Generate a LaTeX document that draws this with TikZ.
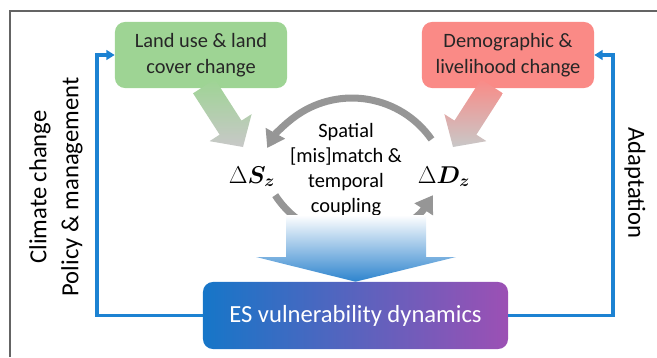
\documentclass[tikz,border=0pt]{standalone}
\usepackage{fontspec}
\setmainfont{Carlito}
\usepackage{bm}
\usetikzlibrary{arrows.meta,calc,positioning}

\definecolor{landgreen}{RGB}{158,212,148}
\definecolor{demored}{RGB}{250,138,134}
\definecolor{fadegray}{RGB}{200,200,200}
\definecolor{arcgray}{RGB}{150,150,150}
\definecolor{framegray}{RGB}{100,100,100}
\definecolor{fbblue}{RGB}{28,130,210}
\definecolor{esblue}{RGB}{22,118,200}
\definecolor{espurple}{RGB}{156,80,180}

\tikzset{
  driverbox/.style={rounded corners=0.25cm, minimum width=4.3cm, minimum height=1.65cm,
    align=center, text=black!85, font=\fontsize{14.5}{18.4}\selectfont},
  esbox/.style={rounded corners=0.25cm, minimum width=7.625cm, minimum height=1.675cm,
    left color=esblue, right color=espurple, text=white, font=\fontsize{17.5}{21}\selectfont},
  midtext/.style={align=center, font=\fontsize{14.5}{17.7}\selectfont},
  delta/.style={anchor=base, font=\fontsize{17.5}{20}\selectfont},
  sidelabel/.style={align=center, font=\fontsize{17.5}{22.7}\selectfont},
  feedback/.style={draw=fbblue, line width=2.4pt, -{Triangle[length=6pt,width=7pt]}},
  cyclearrow/.style={draw=arcgray, line width=5pt, -{Triangle[length=12pt,width=15pt]}},
  intoes/.style={top color=white, bottom color=esblue!90},
}

% fat shaded arrow: start, tip, top colour, bottom colour
\newcommand{\fatarrow}[4]{%
  \coordinate (#1-base) at ($(#2)!0.575cm!(#1)$);
  \path[top color=#3, bottom color=#4]
    ($(#1)!0.325cm!90:(#2)$) -- ($(#1-base)!0.325cm!90:(#2)$)
    -- ($(#1-base)!0.625cm!90:(#2)$) -- (#2)
    -- ($(#1-base)!0.625cm!-90:(#2)$) -- ($(#1-base)!0.325cm!-90:(#2)$)
    -- ($(#1)!0.325cm!-90:(#2)$) -- cycle;
}

\begin{document}
\begin{tikzpicture}[x=0.025cm, y=0.025cm]
  \useasboundingbox (0,0) rectangle (657,357);

  % Frame
  \draw[framegray, line width=1pt] (10,0) -- (10,346) -- (657,346);

  % Drivers
  \node[driverbox, fill=landgreen] (land) at (201,302) {Land use \& land\\cover change};
  \node[driverbox, fill=demored] (demo) at (508,302) {Demographic \&\\livelihood change};

  % Changes
  \node[delta] (dS) at (252,174) {$\Delta\bm{S_z}$};
  \node[delta] (dD) at (444,174) {$\Delta\bm{D_z}$};
  \node[midtext] (match) at (346,187) {Spatial\\{[mis]match \&}\\temporal\\coupling};

  % Outcome
  \node[esbox] (es) at (355.5,41.5) {ES vulnerability dynamics};

  % Drivers acting on the changes
  \coordinate (landfrom) at ($(land.south)+(3,2)$);
  \coordinate (landto) at (243,210);
  \fatarrow{landfrom}{landto}{landgreen}{fadegray}
  \coordinate (demofrom) at ($(demo.south)+(-16,2)$);
  \coordinate (demoto) at (453,210);
  \fatarrow{demofrom}{demoto}{demored}{fadegray}

  % Coupling cycle
  \draw[cyclearrow] (431.5,217.6) arc[start angle=35, end angle=151, radius=97];
  \draw[cyclearrow] (275.2,161.8) arc[start angle=213, end angle=327, radius=94];

  % Into vulnerability
  \path[intoes] (286,142) -- (286,100) -- (256,100) -- (es.north)
    -- (456,100) -- (426,100) -- (426,142) -- cycle;

  % Feedback loops
  \coordinate (lbend) at (97,302);
  \draw[feedback] (es.west) -| (lbend) -- (land.west);
  \coordinate (rbend) at (613,302);
  \draw[feedback] (es.east) -| (rbend) -- (demo.east);

  % Loop labels
  \node[sidelabel, rotate=90] (policy) at (56,170) {Climate change\\Policy \& management};
  \node[sidelabel, rotate=-90] (adapt) at (635,174) {Adaptation};
\end{tikzpicture}
\end{document}
